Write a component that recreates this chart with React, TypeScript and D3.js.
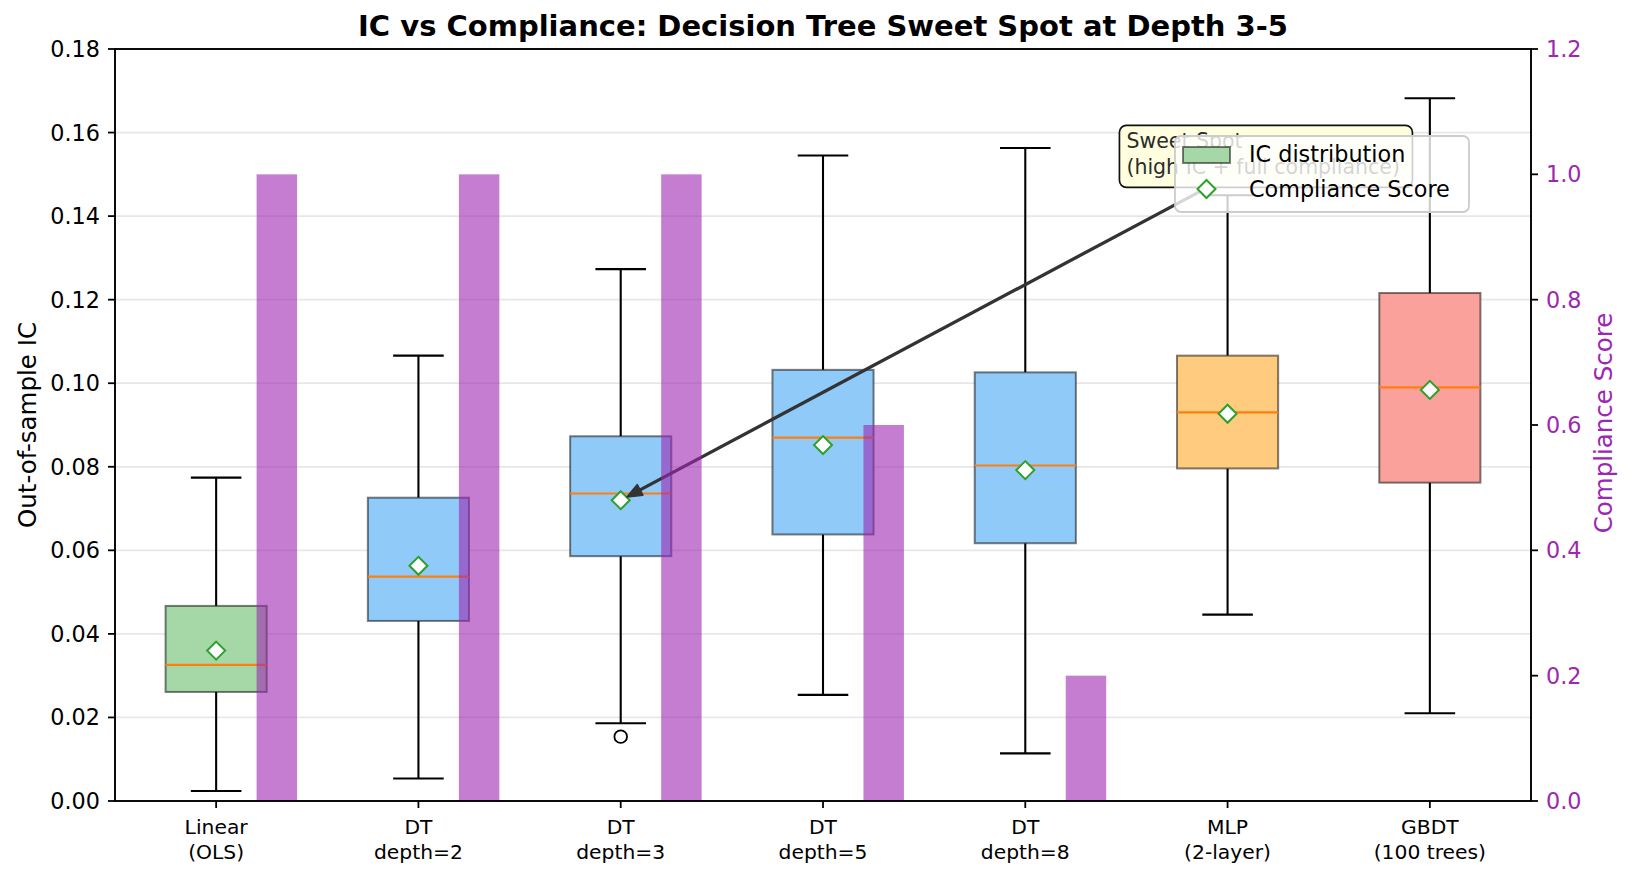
import React from 'react';
import * as d3 from 'd3';

// Models along the x axis
const MODELS = [
  ['Linear', '(OLS)'],
  ['DT', 'depth=2'],
  ['DT', 'depth=3'],
  ['DT', 'depth=5'],
  ['DT', 'depth=8'],
  ['MLP', '(2-layer)'],
  ['GBDT', '(100 trees)'],
];

// IC distribution (box stats)
const WHISKER_LOW = [0.0024, 0.0054, 0.0186, 0.0254, 0.0114, 0.0446, 0.021];
const Q1 = [0.0261, 0.0431, 0.0586, 0.0638, 0.0617, 0.0796, 0.0762];
const MEDIAN = [0.0326, 0.0537, 0.0736, 0.087, 0.0803, 0.093, 0.099];
const Q3 = [0.0467, 0.0726, 0.0873, 0.1032, 0.1026, 0.1066, 0.1216];
const WHISKER_HIGH = [0.0774, 0.1066, 0.1273, 0.1545, 0.1563, 0.145, 0.1682];
const MEANS = [0.036, 0.0563, 0.072, 0.0852, 0.0792, 0.0927, 0.0984];
const OUTLIERS: number[][] = [[], [], [0.0154], [], [], [], []];

// Compliance score bars (right axis)
const COMPLIANCE = [1.0, 1.0, 1.0, 0.6, 0.2, 0, 0];

const BOX_COLORS = ['#a5d7a7', '#90caf9', '#90caf9', '#90caf9', '#90caf9', '#ffcb7f', '#f9a19a'];

const LEFT_TICKS = [0, 0.02, 0.04, 0.06, 0.08, 0.1, 0.12, 0.14, 0.16, 0.18];
const RIGHT_TICKS = [0, 0.2, 0.4, 0.6, 0.8, 1.0, 1.2];

const W = 1630;
const H = 880;
const margin = { top: 49, right: 99, bottom: 79, left: 115 };
const FONT = 'DejaVu Sans, sans-serif';
const PURPLE = '#9c27b0';

export default function App() {
  const x = d3.scaleLinear().domain([-0.5, 6.5]).range([margin.left, W - margin.right]);
  const y = d3.scaleLinear().domain([0, 0.18]).range([H - margin.bottom, margin.top]);
  const y2 = d3.scaleLinear().domain([0, 1.2]).range([H - margin.bottom, margin.top]);

  const unit = x(1) - x(0);
  const boxW = 0.5 * unit;
  const capW = 0.25 * unit;
  const barW = 0.2 * unit;
  const left = margin.left;
  const right = W - margin.right;
  const top = margin.top;
  const bottom = H - margin.bottom;

  // annotation: text anchored at (4.5, 0.15), arrow to DT depth=3 mean
  const ax = x(4.5);
  const ay = y(0.15);
  const box = { x: ax - 7, y: ay - 49, w: 293, h: 62 };
  const tx = x(2);
  const ty = y(MEANS[2]);
  const cx = box.x + box.w / 2;
  const cy = box.y + box.h / 2;
  const t = (ty - (box.y + box.h)) / (ty - cy);
  const sx = tx + (cx - tx) * t;
  const sy = box.y + box.h;
  const ang = Math.atan2(sy - ty, sx - tx);
  const tipX = tx + Math.cos(ang) * 7;
  const tipY = ty + Math.sin(ang) * 7;
  const headLen = 15;
  const headHalf = 6;
  const bx = tipX + Math.cos(ang) * headLen;
  const by = tipY + Math.sin(ang) * headLen;
  const px = -Math.sin(ang) * headHalf;
  const py = Math.cos(ang) * headHalf;

  const diamond = (mx: number, my: number, r: number) =>
    `M${mx},${my - r}L${mx + r},${my}L${mx},${my + r}L${mx - r},${my}Z`;

  return (
    <svg width={W} height={H} style={{ position: 'absolute', left: 0, top: 0, background: '#fff' }} fontFamily={FONT}>
      {/* Grid */}
      {LEFT_TICKS.map(v => (
        <line key={`g${v}`} x1={left} x2={right} y1={y(v)} y2={y(v)} stroke="#e7e7e7" strokeWidth={1.8} />
      ))}

      {/* Box plots */}
      {MODELS.map((_, i) => {
        const c = x(i);
        return (
          <g key={`b${i}`}>
            <line x1={c} x2={c} y1={y(Q1[i])} y2={y(WHISKER_LOW[i])} stroke="#000" strokeWidth={2.1} />
            <line x1={c} x2={c} y1={y(Q3[i])} y2={y(WHISKER_HIGH[i])} stroke="#000" strokeWidth={2.1} />
            <line x1={c - capW / 2} x2={c + capW / 2} y1={y(WHISKER_LOW[i])} y2={y(WHISKER_LOW[i])} stroke="#000" strokeWidth={2.1} />
            <line x1={c - capW / 2} x2={c + capW / 2} y1={y(WHISKER_HIGH[i])} y2={y(WHISKER_HIGH[i])} stroke="#000" strokeWidth={2.1} />
            <rect
              x={c - boxW / 2}
              y={y(Q3[i])}
              width={boxW}
              height={y(Q1[i]) - y(Q3[i])}
              fill={BOX_COLORS[i]}
              stroke="#000"
              strokeOpacity={0.5}
              strokeWidth={2}
            />
            <line x1={c - boxW / 2} x2={c + boxW / 2} y1={y(MEDIAN[i])} y2={y(MEDIAN[i])} stroke="#ff7f0e" strokeWidth={2.2} />
            {OUTLIERS[i].map((o, k) => (
              <circle key={k} cx={c} cy={y(o)} r={6.3} fill="none" stroke="#000" strokeWidth={1.8} />
            ))}
            <path d={diamond(c, y(MEANS[i]), 9)} fill="#fff" stroke="#2ca02c" strokeWidth={2} />
          </g>
        );
      })}

      {/* Annotation arrow */}
      <line x1={sx} y1={sy} x2={bx} y2={by} stroke="#333" strokeWidth={3.3} />
      <path d={`M${tipX},${tipY}L${bx + px},${by + py}L${bx - px},${by - py}Z`} fill="#333" stroke="#333" strokeWidth={1.5} strokeLinejoin="round" />

      {/* Annotation text box */}
      <rect x={box.x} y={box.y} width={box.w} height={box.h} rx={7} fill="#ffffe0" stroke="#111" strokeWidth={1.7} />
      <text x={ax} y={ay - 26} fontSize={20.5} fill="#2b2b2b">Sweet Spot</text>
      <text x={ax} y={ay} fontSize={20.5} fill="#2b2b2b">(high IC + full compliance)</text>

      {/* Compliance bars (twin axis, drawn on top) */}
      {COMPLIANCE.map((v, i) =>
        v > 0 ? (
          <rect
            key={`c${i}`}
            x={x(i + 0.3) - barW / 2}
            y={y2(v)}
            width={barW}
            height={y2(0) - y2(v)}
            fill={PURPLE}
            fillOpacity={0.6}
          />
        ) : null
      )}

      {/* Spines */}
      <rect x={left} y={top} width={right - left} height={bottom - top} fill="none" stroke="#000" strokeWidth={1.9} />

      {/* Left axis */}
      {LEFT_TICKS.map(v => (
        <g key={`l${v}`}>
          <line x1={left - 7} x2={left} y1={y(v)} y2={y(v)} stroke="#000" strokeWidth={1.8} />
          <text x={left - 15} y={y(v)} dy="0.36em" textAnchor="end" fontSize={22.3} fill="#000">
            {v.toFixed(2)}
          </text>
        </g>
      ))}
      <text transform={`translate(27,${(top + bottom) / 2}) rotate(-90)`} textAnchor="middle" dominantBaseline="central" fontSize={24.5} fill="#000">
        Out-of-sample IC
      </text>

      {/* Right axis */}
      {RIGHT_TICKS.map(v => (
        <g key={`r${v}`}>
          <line x1={right} x2={right + 7} y1={y2(v)} y2={y2(v)} stroke="#000" strokeWidth={1.8} />
          <text x={right + 15} y={y2(v)} dy="0.36em" textAnchor="start" fontSize={22.3} fill={PURPLE}>
            {v.toFixed(1)}
          </text>
        </g>
      ))}
      <text transform={`translate(1603,${(top + bottom) / 2 - 2}) rotate(-90)`} textAnchor="middle" dominantBaseline="central" fontSize={24.5} fill={PURPLE}>
        Compliance Score
      </text>

      {/* Bottom axis */}
      {MODELS.map((lines, i) => (
        <g key={`x${i}`}>
          <line x1={x(i)} x2={x(i)} y1={bottom} y2={bottom + 7} stroke="#000" strokeWidth={1.8} />
          <text x={x(i)} y={bottom + 33} textAnchor="middle" fontSize={20.3} fill="#000">{lines[0]}</text>
          <text x={x(i)} y={bottom + 58} textAnchor="middle" fontSize={20.3} fill="#000">{lines[1]}</text>
        </g>
      ))}

      {/* Title */}
      <text x={(left + right) / 2} y={36} textAnchor="middle" fontSize={29} fontWeight="bold" fill="#000">
        IC vs Compliance: Decision Tree Sweet Spot at Depth 3-5
      </text>

      {/* Legend */}
      <g>
        <rect x={1175} y={136} width={294} height={76} rx={6} fill="#fff" fillOpacity={0.8} stroke="#cccccc" strokeWidth={1.8} />
        <rect x={1183} y={147} width={47} height={16} fill={BOX_COLORS[0]} stroke="#000" strokeOpacity={0.5} strokeWidth={2} />
        <text x={1249} y={162} fontSize={22.3} fill="#000">IC distribution</text>
        <path d={diamond(1206.5, 189, 9)} fill="#fff" stroke="#2ca02c" strokeWidth={2} />
        <text x={1249} y={197} fontSize={22.3} fill="#000">Compliance Score</text>
      </g>
    </svg>
  );
}
